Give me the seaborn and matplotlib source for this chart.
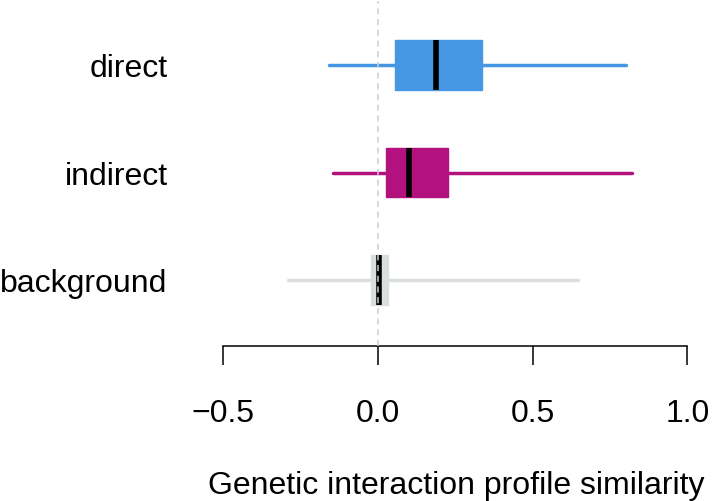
import numpy as np
import pandas as pd
import seaborn as sns
import matplotlib.pyplot as plt

# 类别和颜色
groups = ["direct", "indirect", "background"]
colors = ["#4596E3", "#B3117D", "#DADEDD"]

# 五数概括: 下须, Q1, 中位数, Q3, 上须
direct = [-0.159, 0.056, 0.186, 0.336, 0.803]
indirect = [-0.145, 0.026, 0.099, 0.226, 0.821]
background = [-0.292, -0.022, 0.003, 0.032, 0.647]

xticks = [-0.5, 0.0, 0.5, 1.0]
xticklabels = ["\u22120.5", "0.0", "0.5", "1.0"]

df = pd.DataFrame({
    "group": np.repeat(groups, 5),
    "similarity": direct + indirect + background,
})

sns.set_style("white")
plt.rcParams['font.family'] = ['Liberation Sans', 'DejaVu Sans']
plt.rcParams['text.color'] = 'black'
plt.rcParams['xtick.color'] = 'black'
plt.rcParams['ytick.color'] = 'black'

W, H = 712, 502
fig = plt.figure(figsize=(W / 100, H / 100), dpi=100)
ax = fig.add_axes([223.3 / W, (H - 347) / H, (687.3 - 223.3) / W, (347 - 2) / H])

sns.boxplot(data=df, x="similarity", y="group", hue="group", order=groups, hue_order=groups,
            palette=colors, whis=(0, 100), width=0.456, showcaps=False, fliersize=0,
            linewidth=1, legend=False,
            medianprops=dict(color="black", linewidth=4, solid_capstyle="butt"), ax=ax)

# 每组的须和框边用同一种颜色
for cont, c in zip(ax.containers, colors):
    for b in cont.boxes:
        b.set_facecolor(c)
        b.set_edgecolor(c)
    for w in cont.whiskers:
        w.set_color(c)
        w.set_linewidth(2.5)
        w.set_solid_capstyle("round")

ax.axvline(0, color="#CDCFCF", linestyle=(0, (4, 3)), linewidth=1.1, zorder=10)

ax.set_xlim(-0.5, 1.0)
ax.set_ylim(2 + 66 / 107.5, -(66 - 2) / 107.5)
ax.set_xticks(xticks)
ax.set_xticklabels(xticklabels)
ax.set_ylabel("")
ax.set_xlabel("")

for s in ["left", "top", "right"]:
    ax.spines[s].set_visible(False)
ax.spines["bottom"].set_bounds(-0.5, 1.0)
ax.spines["bottom"].set_linewidth(1.1)
ax.spines["bottom"].set_color("black")

ax.tick_params(axis="x", length=13.7, width=1.1, pad=24, labelsize=23, color="black",
               labelcolor="black", bottom=True)
ax.tick_params(axis="y", length=0, pad=40, labelsize=23, labelcolor="black")

fig.text(456 / W, 1 - 494 / H, "Genetic interaction profile similarity", ha="center", va="baseline",
         fontsize=23, color="black")

fig.savefig("out.png", dpi=100)
